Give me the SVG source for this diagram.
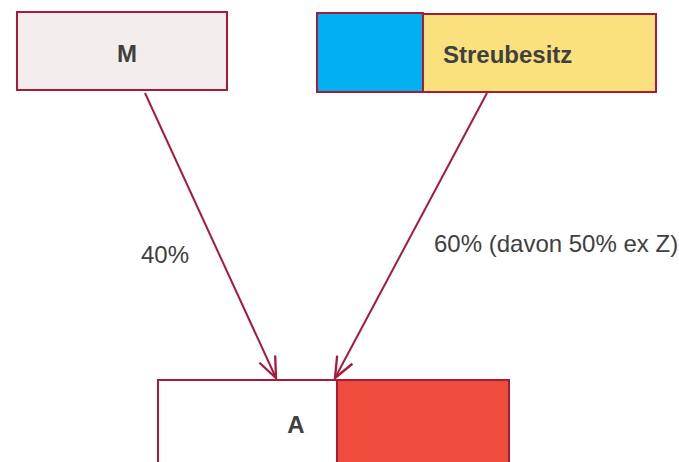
<svg xmlns="http://www.w3.org/2000/svg" width="679" height="462" viewBox="0 0 679 462">
<defs>
<style>
.box{stroke:#a8193a;stroke-width:2}
.t{font-family:"Liberation Sans",Arial,sans-serif;fill:#404040}
.b{font-weight:bold;font-size:24px}
.l{font-size:24px}
.c{stroke:#a8193a;stroke-width:2;fill:none}
</style>
<marker id="ah" markerUnits="userSpaceOnUse" markerWidth="30" markerHeight="30" viewBox="-22 -12 26 24" refX="0" refY="0" orient="auto">
<path d="M-18,-7.5 L0,0 L-18,7.5" fill="none" stroke="#a8193a" stroke-width="2"/>
</marker>
</defs>
<rect width="679" height="462" fill="#fff"/>
<g id="connectors">
<line class="c" x1="145" y1="93" x2="276" y2="378" marker-end="url(#ah)"/>
<line class="c" x1="487" y1="93" x2="335" y2="378" marker-end="url(#ah)"/>
<text class="t l" x="141" y="263">40%</text>
<text class="t l" x="434" y="252">60% (davon 50% ex Z)</text>
</g>
<g id="M">
<rect class="box" x="17" y="12" width="210" height="78" fill="#f3eded"/>
<text class="t b" x="127" y="62" text-anchor="middle">M</text>
</g>
<g id="Streubesitz">
<rect class="box" x="423" y="14" width="233" height="78" fill="#fbe07e"/>
<rect class="box" x="317" y="13" width="106" height="79" fill="#00b0f0"/>
<text class="t b" x="443" y="63">Streubesitz</text>
</g>
<g id="A">
<rect class="box" x="158" y="380" width="179" height="100" fill="#ffffff"/>
<rect class="box" x="337" y="380" width="172" height="100" fill="#ef4c3e"/>
<text class="t b" x="296" y="433" text-anchor="middle">A</text>
</g>
</svg>
